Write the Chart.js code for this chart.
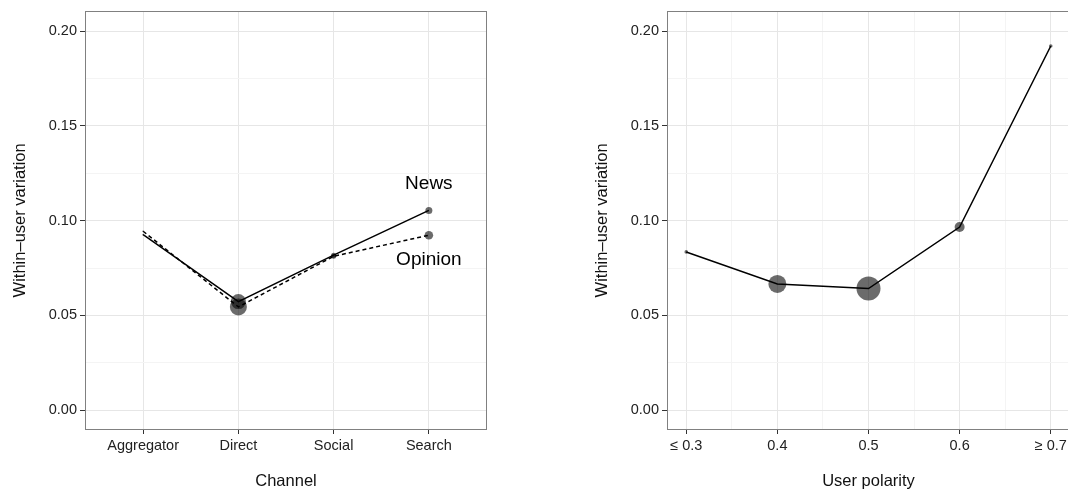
<!DOCTYPE html>
<html>
<head>
<meta charset="utf-8">
<script src="https://cdn.jsdelivr.net/npm/chart.js@4"></script>
<style>
    html, body { margin: 0; padding: 0; background: #fff; overflow: hidden; width: 1068px; height: 489px; }
    canvas { position: absolute; top: 0; }
    #channelChart { left: 0; }
    #polarityChart { left: 530px; }
</style>
</head>
<body>
<canvas id="channelChart" width="530" height="489"></canvas>
<canvas id="polarityChart" width="545" height="489"></canvas>
<script>
// Painel 1 - canal
const channels = ['Aggregator', 'Direct', 'Social', 'Search'];
const newsValues = [0.0926, 0.0573, 0.0818, 0.1054];
const opinionValues = [0.0944, 0.0545, 0.0812, 0.0923];
const newsSizes = [0.8, 7.5, 2.5, 3.5];
const opinionSizes = [0.8, 8.5, 2.5, 4.3];

// Painel 2 - polaridade
const polarity = [0.3, 0.4, 0.5, 0.6, 0.7];
const polarityLabels = ['≤ 0.3', '0.4', '0.5', '0.6', '≥ 0.7'];
const polarityMinor = [0.35, 0.45, 0.55, 0.65];
const polarityValues = [0.0835, 0.0666, 0.0642, 0.0966, 0.1921];
const polaritySizes = [1.8, 9, 12, 5, 1.8];

// Eixo y compartilhado
const yMajor = [0, 0.05, 0.1, 0.15, 0.2];
const yMinor = [0.025, 0.075, 0.125, 0.175];

// Rotulos das series
const seriesNames = ['News', 'Opinion'];
const seriesLabelX = [4, 4];
const seriesLabelY = [0.1196, 0.0796];

const FONT = '"Liberation Sans", Arial, Helvetica, sans-serif';
const POINT_COLOR = 'rgba(0, 0, 0, 0.58)';
const MAJOR_GRID = '#e6e6e6';
const MINOR_GRID = '#f4f4f4';

const isIn = (list, v) => list.some(m => Math.abs(m - v) < 1e-9);

function yScale() {
    return {
        type: 'linear',
        min: -0.0099,
        max: 0.2102,
        afterBuildTicks: (s) => {
            s.ticks = yMajor.concat(yMinor).sort((a, b) => a - b).map(v => ({ value: v }));
        },
        afterFit: (s) => { s.width = 86; },
        ticks: {
            autoSkip: false,
            padding: 3,
            color: '#222',
            font: { family: FONT, size: 14.5 },
            callback: (v) => isIn(yMajor, v) ? v.toFixed(2) : ''
        },
        grid: {
            color: (ctx) => ctx.tick && isIn(yMajor, ctx.tick.value) ? MAJOR_GRID : MINOR_GRID,
            tickColor: (ctx) => ctx.tick && isIn(yMajor, ctx.tick.value) ? '#333' : 'rgba(0,0,0,0)',
            tickLength: 6,
            lineWidth: 1
        },
        border: { display: false },
        title: {
            display: true,
            text: 'Within\u2013user variation',
            color: '#111',
            font: { family: FONT, size: 16.5 },
            padding: { top: 11, bottom: 0 }
        }
    };
}

function xTitle(text) {
    return {
        display: true,
        text: text,
        color: '#111',
        font: { family: FONT, size: 16.5 },
        padding: { top: 0, bottom: -2 }
    };
}

// Moldura do painel
const panelBorder = {
    id: 'panelBorder',
    afterDraw(chart) {
        const { ctx, chartArea } = chart;
        ctx.save();
        ctx.strokeStyle = '#808080';
        ctx.lineWidth = 1;
        ctx.strokeRect(Math.round(chartArea.left) - 0.5, Math.round(chartArea.top) - 0.5,
            Math.round(chartArea.right - chartArea.left) + 1, Math.round(chartArea.bottom - chartArea.top) + 1);
        ctx.restore();
    }
};

// Rotulos News / Opinion
const seriesLabels = {
    id: 'seriesLabels',
    afterDatasetsDraw(chart) {
        const { ctx, scales } = chart;
        ctx.save();
        ctx.font = '19px ' + FONT;
        ctx.fillStyle = '#000';
        ctx.textAlign = 'center';
        ctx.textBaseline = 'middle';
        seriesNames.forEach((name, i) => {
            ctx.fillText(name, scales.x.getPixelForValue(seriesLabelX[i]), scales.y.getPixelForValue(seriesLabelY[i]));
        });
        ctx.restore();
    }
};

const baseOptions = {
    responsive: false,
    animation: false,
    plugins: { legend: { display: false }, tooltip: { enabled: false } }
};

new Chart(document.getElementById('channelChart'), {
    type: 'line',
    data: {
        datasets: [
            {
                label: 'Opinion',
                data: opinionValues.map((y, i) => ({ x: i + 1, y })),
                borderColor: '#000',
                borderWidth: 1.5,
                borderDash: [4, 3],
                pointRadius: opinionSizes,
                pointBackgroundColor: POINT_COLOR,
                pointBorderWidth: 0,
                tension: 0
            },
            {
                label: 'News',
                data: newsValues.map((y, i) => ({ x: i + 1, y })),
                borderColor: '#000',
                borderWidth: 1.5,
                pointRadius: newsSizes,
                pointBackgroundColor: POINT_COLOR,
                pointBorderWidth: 0,
                tension: 0
            }
        ]
    },
    options: {
        ...baseOptions,
        layout: { padding: { left: 0, right: 44, top: 11, bottom: 0 } },
        scales: {
            x: {
                type: 'linear',
                min: 0.4,
                max: 4.6,
                afterBuildTicks: (s) => { s.ticks = channels.map((c, i) => ({ value: i + 1 })); },
                afterFit: (s) => { s.height = 60; },
                ticks: {
                    autoSkip: false,
                    maxRotation: 0,
                    padding: 3,
                    color: '#222',
                    font: { family: FONT, size: 14.5 },
                    callback: (v) => channels[Math.round(v) - 1]
                },
                grid: { color: MAJOR_GRID, tickColor: '#333', tickLength: 5 },
                border: { display: false },
                title: xTitle('Channel')
            },
            y: yScale()
        }
    },
    plugins: [panelBorder, seriesLabels]
});

new Chart(document.getElementById('polarityChart'), {
    type: 'line',
    data: {
        datasets: [{
            label: 'Polarity',
            data: polarityValues.map((y, i) => ({ x: polarity[i], y })),
            borderColor: '#000',
            borderWidth: 1.5,
            pointRadius: polaritySizes,
            pointBackgroundColor: POINT_COLOR,
            pointBorderWidth: 0,
            tension: 0
        }]
    },
    options: {
        ...baseOptions,
        layout: { padding: { left: 52, right: 6, top: 11, bottom: 0 } },
        scales: {
            x: {
                type: 'linear',
                min: 0.28,
                max: 0.72,
                afterBuildTicks: (s) => {
                    s.ticks = polarity.concat(polarityMinor).sort((a, b) => a - b).map(v => ({ value: v }));
                },
                afterFit: (s) => { s.height = 60; },
                ticks: {
                    autoSkip: false,
                    maxRotation: 0,
                    padding: 3,
                    color: '#222',
                    font: { family: FONT, size: 14.5 },
                    callback: (v) => {
                        const i = polarity.findIndex(p => Math.abs(p - v) < 1e-9);
                        return i >= 0 ? polarityLabels[i] : '';
                    }
                },
                grid: {
                    color: (ctx) => ctx.tick && isIn(polarity, ctx.tick.value) ? MAJOR_GRID : MINOR_GRID,
                    tickColor: (ctx) => ctx.tick && isIn(polarity, ctx.tick.value) ? '#333' : 'rgba(0,0,0,0)',
                    tickLength: 5
                },
                border: { display: false },
                title: xTitle('User polarity')
            },
            y: yScale()
        }
    },
    plugins: [panelBorder]
});
</script>
</body>
</html>
